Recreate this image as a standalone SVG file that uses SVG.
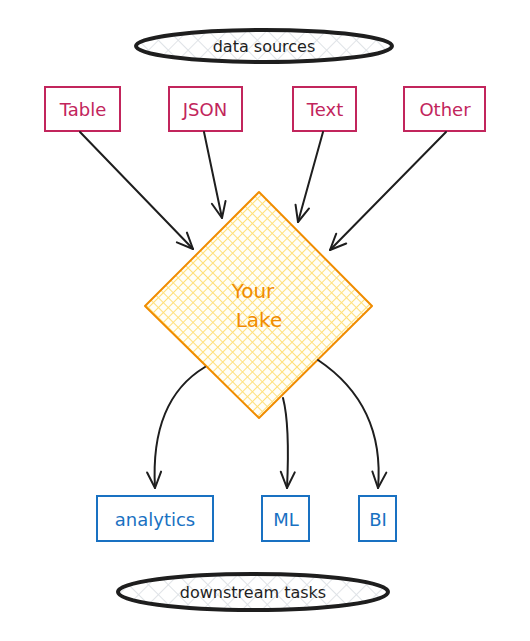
<svg xmlns="http://www.w3.org/2000/svg" width="530" height="641" viewBox="0 0 530 641">
<defs>
<pattern id="hatchY" width="7" height="7" patternUnits="userSpaceOnUse" patternTransform="rotate(45)">
<rect width="7" height="7" fill="#fffef8"/>
<path d="M0 0H7M0 0V7" stroke="#ffe07a" stroke-width="2"/>
</pattern>
<pattern id="hatchG" width="14" height="14" patternUnits="userSpaceOnUse" patternTransform="rotate(45)">
<rect width="14" height="14" fill="#ffffff"/>
<path d="M0 0H14M0 0V14" stroke="#dee2e6" stroke-width="1.8"/>
</pattern>
<marker id="arr" viewBox="0 0 20 20" refX="18" refY="10" markerWidth="20" markerHeight="20" markerUnits="userSpaceOnUse" orient="auto">
<path d="M2 3 L18 10 L2 17" fill="none" stroke="#1e1e1e" stroke-width="2" stroke-linecap="round" stroke-linejoin="round"/>
</marker>
</defs>
<style>
text{font-family:"DejaVu Sans","Liberation Sans",sans-serif;text-anchor:middle;dominant-baseline:central}
.src rect{fill:#fff;stroke:#c2255c;stroke-width:2}
.src text{fill:#c2255c;font-size:18px}
.dst rect{fill:#fff;stroke:#1971c2;stroke-width:2}
.dst text{fill:#1971c2;font-size:18px}
.ell ellipse{fill:url(#hatchG);stroke:#1e1e1e;stroke-width:4}
.ell text{fill:#1e1e1e;font-size:16px}
.conn path{fill:none;stroke:#1e1e1e;stroke-width:2;stroke-linecap:round;marker-end:url(#arr)}
</style>
<g id="data-sources" class="ell">
<ellipse cx="264" cy="46" rx="128" ry="16"/>
<text x="264" y="46">data sources</text>
</g>
<g id="table" class="src"><rect x="45" y="87" width="75" height="44"/><text x="83" y="109">Table</text></g>
<g id="json" class="src"><rect x="169" y="87" width="73" height="44"/><text x="205" y="109">JSON</text></g>
<g id="text" class="src"><rect x="293" y="87" width="63" height="44"/><text x="325" y="109">Text</text></g>
<g id="other" class="src"><rect x="404" y="87" width="81" height="44"/><text x="445" y="109">Other</text></g>
<g id="lake">
<polygon points="259,192 372,306 259,418 145,306" fill="url(#hatchY)" stroke="#f08c00" stroke-width="2" stroke-linejoin="round"/>
<text x="253" y="291" fill="#f08c00" font-size="20">Your</text>
<text x="259" y="320" fill="#f08c00" font-size="20">Lake</text>
</g>
<g id="analytics" class="dst"><rect x="97" y="496" width="116" height="45"/><text x="155" y="519">analytics</text></g>
<g id="ml" class="dst"><rect x="262" y="496" width="47" height="45"/><text x="286" y="519">ML</text></g>
<g id="bi" class="dst"><rect x="359" y="496" width="37" height="45"/><text x="378" y="519">BI</text></g>
<g id="downstream" class="ell">
<ellipse cx="253" cy="592" rx="135" ry="18"/>
<text x="253" y="592">downstream tasks</text>
</g>
<g id="connectors" class="conn">
<path d="M80 132 L193 249"/>
<path d="M204 132 L222 218"/>
<path d="M323 132 L298 222"/>
<path d="M446 132 L330 250"/>
<path d="M205 367 Q150 400 155 488"/>
<path d="M283 398 Q290 425 287 488"/>
<path d="M318 360 Q385 405 378 488"/>
</g>
</svg>
